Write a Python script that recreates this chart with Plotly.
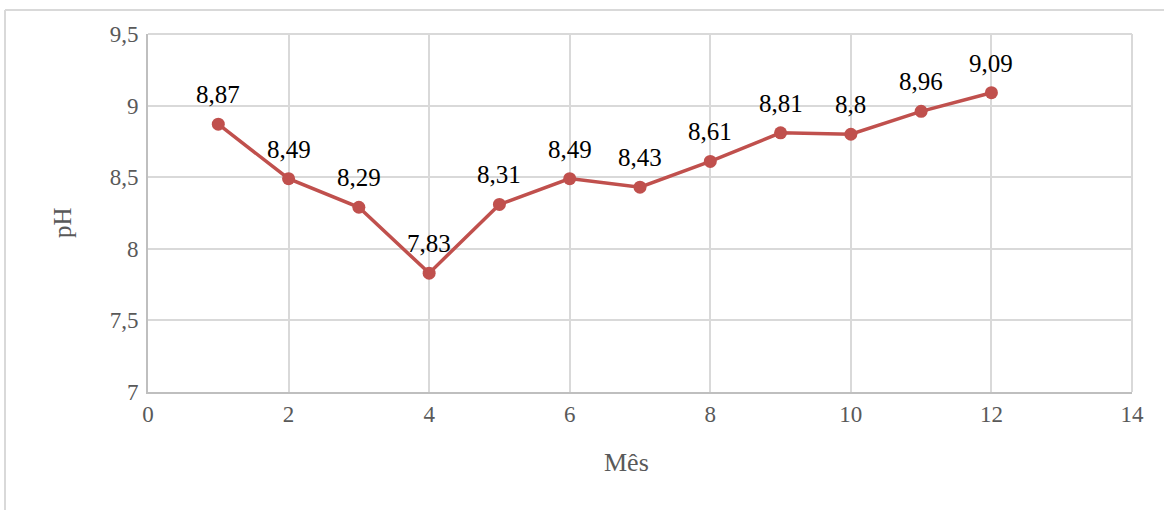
import plotly.graph_objects as go

months = [1, 2, 3, 4, 5, 6, 7, 8, 9, 10, 11, 12]
ph = [8.87, 8.49, 8.29, 7.83, 8.31, 8.49, 8.43, 8.61, 8.81, 8.8, 8.96, 9.09]
labels = ["8,87", "8,49", "8,29", "7,83", "8,31", "8,49", "8,43", "8,61", "8,81", "8,8", "8,96", "9,09"]
x_ticks = [0, 2, 4, 6, 8, 10, 12, 14]
y_ticks = [7, 7.5, 8, 8.5, 9, 9.5]
y_ticktext = ["7", "7,5", "8", "8,5", "9", "9,5"]
x_title = "Mês"
y_title = "pH"

FONT = "Liberation Serif"
W, H = 1164, 510
L, R, T, B = 148, 32, 34, 118
pw, ph_ = W - L - R, H - T - B

def px(xp):
    return (xp - L) / pw

def py(yp):
    return (H - B - yp) / ph_

fig = go.Figure()
fig.add_trace(go.Scatter(
    x=months, y=ph, mode="lines+markers",
    line=dict(color="#c0504d", width=3.5),
    marker=dict(color="#c0504d", size=13),
    showlegend=False, hoverinfo="x+y",
))

annotations = [
    dict(x=m, y=v, xref="x", yref="y", text=t, showarrow=False, yanchor="bottom",
         yshift=14, font=dict(family=FONT, size=25, color="#000000"))
    for m, v, t in zip(months, ph, labels)
]
annotations.append(dict(x=px(626), y=py(462), xref="paper", yref="paper", text=x_title,
                        showarrow=False, xanchor="center", yanchor="middle",
                        font=dict(family=FONT, size=26, color="#595959")))
annotations.append(dict(x=px(62), y=py(223), xref="paper", yref="paper", text=y_title,
                        showarrow=False, xanchor="center", yanchor="middle", textangle=-90,
                        font=dict(family=FONT, size=25, color="#595959")))

fig.update_layout(
    width=W, height=H,
    margin=dict(l=L, r=R, t=T, b=B),
    paper_bgcolor="white", plot_bgcolor="white",
    font=dict(family=FONT, color="#595959", size=23),
    xaxis=dict(range=[0, 14], tickvals=x_ticks, showgrid=True, gridcolor="#d9d9d9", gridwidth=2,
               showline=True, linecolor="#bfbfbf", linewidth=2, zeroline=False, mirror=False,
               ticks="", tickfont=dict(size=23, color="#595959")),
    yaxis=dict(range=[7, 9.5], tickvals=y_ticks, ticktext=y_ticktext, showgrid=True,
               gridcolor="#d9d9d9", gridwidth=2, showline=True, linecolor="#bfbfbf", linewidth=2,
               zeroline=False, ticks="", ticklabelstandoff=3,
               tickfont=dict(size=23, color="#595959")),
    annotations=annotations,
    shapes=[
        dict(type="line", xref="paper", yref="paper", x0=px(5), x1=px(1170), y0=py(10), y1=py(10),
             line=dict(color="#d9d9d9", width=2)),
        dict(type="line", xref="paper", yref="paper", x0=px(5), x1=px(5), y0=py(10), y1=py(520),
             line=dict(color="#d9d9d9", width=2)),
        dict(type="line", xref="paper", yref="paper", x0=1, x1=1, y0=0, y1=1,
             line=dict(color="#d9d9d9", width=2)),
        dict(type="line", xref="paper", yref="paper", x0=0, x1=1, y0=1, y1=1,
             line=dict(color="#d9d9d9", width=2)),
    ],
)

fig.write_html("out.html")
